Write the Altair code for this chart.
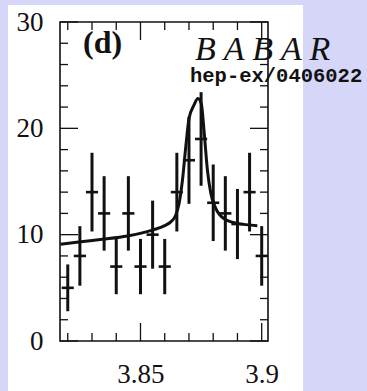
import altair as alt
import pandas as pd

# Invariant-mass bin centres (GeV/c^2), event counts per 5 MeV bin and their errors
mass = [3.820, 3.825, 3.830, 3.835, 3.840, 3.845, 3.850, 3.855, 3.860,
        3.865, 3.870, 3.875, 3.880, 3.885, 3.890, 3.895, 3.900]
counts = [5, 8, 14, 12, 7, 12, 7, 10, 7, 14, 17, 19, 13, 12, 11, 14, 8]
errors = [2.2, 2.8, 3.7, 3.5, 2.6, 3.5, 2.6, 3.2, 2.6, 3.7, 4.1, 4.4, 3.6,
          3.5, 3.3, 3.7, 2.8]
bin_half = 0.0025

# Fitted signal + background curve
fit_mass = [3.8170, 3.8254, 3.8343, 3.8446, 3.8549, 3.8600, 3.8625, 3.8645,
            3.8659, 3.8673, 3.8687, 3.8700, 3.8721, 3.8737, 3.8751, 3.8762,
            3.8776, 3.8790, 3.8810, 3.8845, 3.8900, 3.8982]
fit_val = [9.1, 9.33, 9.56, 9.87, 10.43, 10.85, 11.2, 11.8, 12.9, 15.1, 18.3,
           20.9, 22.2, 22.8, 22.3, 19.8, 16.1, 13.9, 12.5, 11.5, 11.06, 10.85]

# Tick positions
x_major = [3.85, 3.9]
x_minor = [3.82, 3.83, 3.84, 3.86, 3.87, 3.88, 3.89]
y_major = [0, 10, 20, 30]
y_minor = [2, 4, 6, 8, 12, 14, 16, 18, 22, 24, 26, 28]

W, H = 208, 319
INK = "#111111"
SERIF = "Liberation Serif"

pts = pd.DataFrame({"m": mass, "n": counts, "e": errors})
pts["lo"] = pts["n"] - pts["e"]
pts["hi"] = pts["n"] + pts["e"]
pts["m0"] = pts["m"] - bin_half
pts["m1"] = pts["m"] + bin_half
fit = pd.DataFrame({"m": fit_mass, "n": fit_val})

xs = alt.Scale(domain=[3.8168, 3.9026], nice=False, zero=False)
ys = alt.Scale(domain=[0, 30], nice=False, zero=False)
one = alt.Data(values=[{}])

# Same axis definition on every layer so the shared axes merge cleanly
AX = alt.Axis(values=x_major, format="~g", ticks=False, domain=False, grid=False,
              labelFont=SERIF, labelFontSize=27, labelColor=INK, labelPadding=20,
              labelFlush=False, zindex=2, title=None)
AY = alt.Axis(values=y_major, format="d", ticks=False, domain=False, grid=False,
              labelFont=SERIF, labelFontSize=27, labelColor=INK, labelPadding=17,
              zindex=2, title=None)


def X(field):
    return alt.X(field, type="quantitative", scale=xs, axis=AX, title=None)


def Y(field):
    return alt.Y(field, type="quantitative", scale=ys, axis=AY, title=None)


panel = alt.Chart(one).mark_rect(fill="white").encode(
    x=alt.value(-52), x2=alt.value(243), y=alt.value(-17), y2=alt.value(H + 50)
)
frame = alt.Chart(one).mark_rect(filled=False, stroke=INK, strokeWidth=1.6).encode(
    x=alt.value(0), x2=alt.value(W), y=alt.value(0), y2=alt.value(H)
)


def yticks(vals, length):
    d = pd.DataFrame({"v": vals})
    left = alt.Chart(d).mark_rule(color=INK, strokeWidth=1.3).encode(
        y=Y("v"), x=alt.value(0), x2=alt.value(length))
    right = alt.Chart(d).mark_rule(color=INK, strokeWidth=1.3).encode(
        y=Y("v"), x=alt.value(W - length), x2=alt.value(W))
    return [left, right]


def xticks(vals, length):
    d = pd.DataFrame({"v": vals})
    bottom = alt.Chart(d).mark_rule(color=INK, strokeWidth=1.3).encode(
        x=X("v"), y=alt.value(H), y2=alt.value(H - length))
    top = alt.Chart(d).mark_rule(color=INK, strokeWidth=1.3).encode(
        x=X("v"), y=alt.value(0), y2=alt.value(length))
    return [bottom, top]


ticks = (yticks(y_major, 18) + yticks(y_minor, 8)
         + xticks(x_major, 18) + xticks(x_minor, 8))

vbars = alt.Chart(pts).mark_rule(color=INK, strokeWidth=3).encode(
    x=X("m"), y=Y("lo"), y2="hi:Q",
)
hbars = alt.Chart(pts).mark_rule(color=INK, strokeWidth=2.6).encode(
    x=X("m0"), x2="m1:Q", y=Y("n"),
)
curve = alt.Chart(fit).mark_line(color=INK, strokeWidth=3, interpolate="monotone").encode(
    x=X("m"), y=Y("n"),
)

tag = alt.Chart(one).mark_text(
    text="(d)", font=SERIF, fontWeight="bold", fontSize=32, align="left",
    baseline="alphabetic", color=INK
).encode(x=alt.value(23), y=alt.value(31))

babar = alt.Chart(one).mark_text(
    text="B A B A R", font=SERIF, fontStyle="italic", fontSize=34,
    align="left", baseline="alphabetic", color=INK
).encode(x=alt.value(135), y=alt.value(38))

ref = alt.Chart(one).mark_text(
    text="hep-ex/0406022", font="Liberation Mono", fontWeight="bold", fontSize=20.5,
    align="left", baseline="alphabetic", color=INK
).encode(x=alt.value(130), y=alt.value(60))

chart = alt.layer(
    panel, vbars, hbars, curve, *ticks, frame, tag, babar, ref
).properties(
    width=W, height=H,
    autosize=alt.AutoSizeParams(type="none"),
    padding={"left": 60, "top": 22, "right": 367 - 60 - W, "bottom": 391 - 22 - H},
    background="#d6d6f9",
).configure_view(stroke=None)

chart.save("out.html", embed_options={"renderer": "svg", "actions": False})
